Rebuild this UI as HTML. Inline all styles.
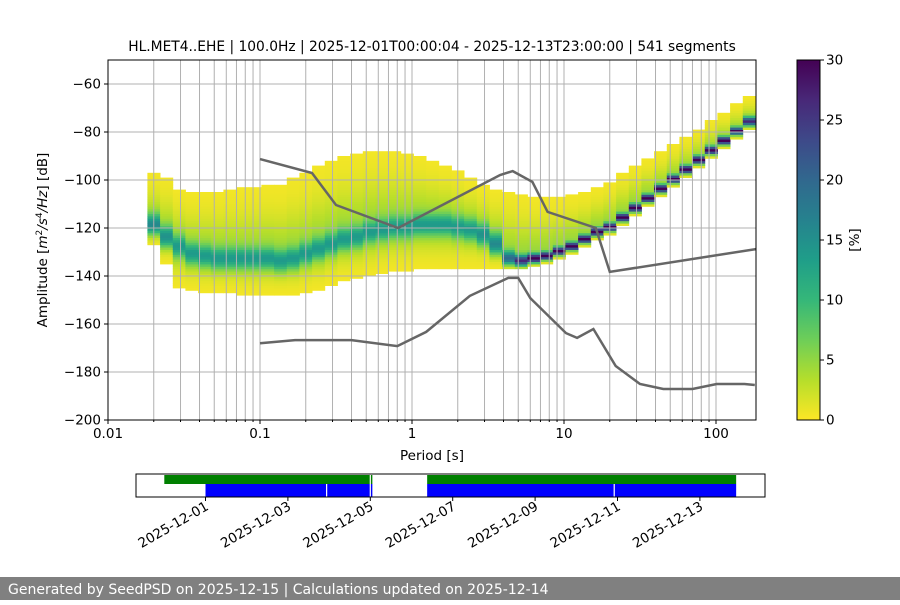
<!DOCTYPE html>
<html><head><meta charset="utf-8"><style>
body{margin:0;background:#fff;}
svg text{font-family:"DejaVu Sans","Liberation Sans",sans-serif;}
</style></head><body>
<svg id="c" width="900" height="600" xmlns="http://www.w3.org/2000/svg"></svg>
<script>
// ---- heatmap data: one column per 1/12 decade, starting at 0.02 s
const colModes=[-119,-124,-128,-131,-132,-133,-133,-133,-133,-133,-134,-133,-131,-129,-127,-125,-124,-122,-121,-120,-120,-119,-119,-119,-120,-121,-123,-127,-133,-134,-133,-132,-130,-128,-125,-122,-120,-116,-112,-108,-104,-100,-96,-92,-88,-84,-80,-76];
const colLows=[-127,-135,-145,-146,-147,-147,-147,-148,-148,-148,-148,-148,-147,-146,-144,-142,-141,-140,-139,-138,-138,-137,-137,-137,-137,-137,-137,-137,-137,-137,-136,-135,-133,-131,-128,-125,-123,-119,-115,-111,-107,-103,-99,-95,-91,-87,-83,-79];
const colHighs=[-98,-100,-105,-106,-106,-106,-105,-104,-104,-103,-103,-100,-98,-95,-93,-91,-90,-89,-89,-89,-90,-91,-93,-95,-97,-100,-103,-105,-106,-107,-108,-108,-108,-107,-106,-104,-102,-98,-95,-92,-89,-86,-83,-80,-76,-73,-69,-66];
const colPeaks=[11,10,9,9,9,9,9,9,9,9,9,9,9,9,9,9,9,9,9,9,9,9,9,9,9,9,10,11,15,22,28,30,30,30,30,30,30,30,30,30,30,30,30,30,30,30,26,22];
const colSigmas=[3,3,3,3,3,3,3,3,3,3,3,3,3,3,3,3,3,3,3,3,3,3,3,3,3,3,3,3,2,1.5,1.2,1,1,1,1,1,1,1,1,1,1,1,1,1,1,1,1,1.2];
// ---- noise models
const nhnmPeriods=[0.1,0.22,0.316,0.81,3.8,4.6,6.2,7.8,16.2,20,183];
const nhnmDb=[-91.3,-97.1,-110.4,-120,-97.9,-96.3,-100.8,-113.3,-120,-138.3,-128.8];
const nlnmPeriods=[0.1,0.17,0.4,0.8,1.24,2.4,4.3,5.0,6.0,10.3,12.2,15.6,21.9,31.6,45,70,101,154,180];
const nlnmDb=[-168,-166.7,-166.7,-169.2,-163.3,-148.3,-140.8,-140.8,-149.2,-163.8,-165.8,-162.1,-177.5,-185,-187.1,-187.1,-185,-185,-185.4];
// ---- timeline (days from 2025-12-01)
const greenStart=[-1.0,5.38];
const greenEnd=[4.05,12.88];
const blueStart=[0,5.38];
const blueEnd=[4.05,12.88];
const gapDays=[2.94,4.0,9.92];
const dateTicks=["2025-12-01","2025-12-03","2025-12-05","2025-12-07","2025-12-09","2025-12-11","2025-12-13"];
const dateTickDays=[0,2,4,6,8,10,12];
const yTicks=[-200,-180,-160,-140,-120,-100,-80,-60];
const xTicks=[0.01,0.1,1,10,100];
const xTickLabels=["0.01","0.1","1","10","100"];
const cbTicks=[0,5,10,15,20,25,30];

const NS="http://www.w3.org/2000/svg";
const svg=document.getElementById('c');
function mk(tag,attrs,parent){const e=document.createElementNS(NS,tag);for(const k in attrs)e.setAttribute(k,attrs[k]);(parent||svg).appendChild(e);return e;}
const L=108,R=756,T=60,B=420;
const xs=p=>L+152*(Math.log10(p)+2);
const ys=d=>B-(d+200)*2.4;
const vir=["#fde725","#b5de2b","#6ece58","#35b779","#1f9e89","#26828e","#31688e","#3e4989","#482878","#440154"];
function hex(h){return [1,3,5].map(i=>parseInt(h.substr(i,2),16));}
function cmap(v){let t=Math.max(0,Math.min(1,v/30))*(vir.length-1);const i=Math.min(vir.length-2,Math.floor(t));const f=t-i;const a=hex(vir[i]),b=hex(vir[i+1]);return "rgb("+a.map((x,j)=>Math.round(x+(b[j]-x)*f)).join(",")+")";}

const title=mk('text',{x:432,y:51,'text-anchor':'middle','font-size':13.8});
title.textContent="HL.MET4..EHE | 100.0Hz | 2025-12-01T00:00:04 - 2025-12-13T23:00:00 | 541 segments";



const cp=mk('clipPath',{id:'cp'});
mk('rect',{x:L,y:T,width:R-L,height:B-T},cp);

const hm=mk('g',{'clip-path':'url(#cp)'});


for(let k=0;k<colModes.length;k++){
  const lg=Math.log10(0.02)+k/12;
  const x0=xs(Math.pow(10,lg-1/24)),x1=xs(Math.pow(10,lg+1/24));
  const upS=Math.max(2,(colHighs[k]-colModes[k])/2.5), dnS=Math.max(1.5,(colModes[k]-colLows[k])/2.5);
  for(let d=colLows[k];d<=colHighs[k];d++){
    const z=(d-colModes[k])/colSigmas[k];
    const w=(d-colModes[k])/(d>=colModes[k]?upS:dnS);
    const v=colPeaks[k]*Math.exp(-0.5*z*z)+0.3+4.5*Math.exp(-0.5*w*w);
    const r=mk('rect',{x:x0.toFixed(1),y:ys(d+1).toFixed(1),width:(x1-x0+0.4).toFixed(1),height:2.8,fill:cmap(v)},hm);
    
    
  }
}
const grid=mk('g',{stroke:'#b0b0b0','stroke-width':1});


for(let e=-2;e<=2;e++)for(let m=1;m<=9;m++){const p=m*Math.pow(10,e);const x=xs(p);if(x>L+0.5&&x<R-0.5)mk('line',{x1:x,x2:x,y1:T,y2:B},grid);}
yTicks.forEach(t=>{const y=ys(t);if(y>T&&y<B)mk('line',{x1:L,x2:R,y1:y,y2:y},grid);});
function line(ps,ds,name){const pl=mk('polyline',{points:ps.map((p,i)=>xs(p).toFixed(1)+','+ys(ds[i]).toFixed(1)).join(' '),fill:'none',stroke:'#666','stroke-width':2.5,'clip-path':'url(#cp)'});

}
line(nhnmPeriods,nhnmDb,'nhnm-line');
line(nlnmPeriods,nlnmDb,'nlnm-line');
mk('rect',{x:L,y:T,width:R-L,height:B-T,fill:'none',stroke:'#000','stroke-width':1});
yTicks.forEach(t=>{const y=ys(t);mk('line',{x1:L-4,x2:L,y1:y,y2:y,stroke:'#000'});
const tx=mk('text',{x:L-7,y:y+4.5,'text-anchor':'end','font-size':13.5});tx.textContent=t<0?'\u2212'+(-t):t;

});
xTicks.forEach((t,i)=>{const x=xs(t);mk('line',{x1:x,x2:x,y1:B,y2:B+4,stroke:'#000'});
const tx=mk('text',{x:x,y:B+18,'text-anchor':'middle','font-size':13.5});tx.textContent=xTickLabels[i];

});
for(let e=-2;e<=2;e++)for(let m=2;m<=9;m++){const x=xs(m*Math.pow(10,e));if(x<R)mk('line',{x1:x,x2:x,y1:B,y2:B+2,stroke:'#000'});}
const xl=mk('text',{x:432,y:460,'text-anchor':'middle','font-size':13.5});xl.textContent='Period [s]';


const yl=mk('text',{x:0,y:0,'text-anchor':'middle','font-size':13.5,transform:'translate(47,240) rotate(-90)'});
yl.innerHTML='Amplitude [<tspan font-style="italic">m</tspan><tspan dy="-5" font-size="9">2</tspan><tspan dy="5" font-style="italic">/s</tspan><tspan dy="-5" font-size="9">4</tspan><tspan dy="5" font-style="italic">/Hz</tspan>] [dB]';


const defs=mk('defs',{});const lgd=mk('linearGradient',{id:'vg',x1:0,y1:1,x2:0,y2:0},defs);
vir.forEach((c,i)=>mk('stop',{offset:i/(vir.length-1),'stop-color':c},lgd));
const cb=mk('rect',{x:797,y:T,width:23,height:B-T,fill:'url(#vg)',stroke:'#000'});


cbTicks.forEach(t=>{const y=B-(B-T)*t/30;mk('line',{x1:820,x2:824,y1:y,y2:y,stroke:'#000'});
const tx=mk('text',{x:826,y:y+4.5,'font-size':13.5});tx.textContent=t;

});
const cl=mk('text',{x:0,y:0,'text-anchor':'middle','font-size':13.5,transform:'translate(859,240) rotate(-90)'});cl.textContent='[%]';


const TL=136,TR=765,TT=474,TB=497;const xd=d=>205.5+41.2*d;
const tl=mk('g',{});


greenStart.forEach((s,i)=>{const r=mk('rect',{x:xd(s),y:TT+1,width:xd(greenEnd[i])-xd(s),height:9,fill:'#008000'},tl);

});
blueStart.forEach((s,i)=>{const r=mk('rect',{x:xd(s),y:TT+10,width:xd(blueEnd[i])-xd(s),height:TB-TT-10,fill:'#0000ff'},tl);

});
gapDays.forEach(g=>mk('line',{x1:xd(g),x2:xd(g),y1:TT+(g>3.5&&g<4.5?1:10),y2:TB,stroke:'#fff','stroke-width':1.2},tl));
mk('rect',{x:TL,y:TT,width:TR-TL,height:TB-TT,fill:'none',stroke:'#000'});
dateTicks.forEach((t,i)=>{const x=xd(dateTickDays[i]);mk('line',{x1:x,x2:x,y1:TB,y2:TB+4,stroke:'#000'});
const tx=mk('text',{x:0,y:0,'text-anchor':'end','font-size':13.5,transform:'translate('+(x+4)+','+(TB+12)+') rotate(-30)'});tx.textContent=t;

});
const fb=mk('rect',{x:0,y:577,width:900,height:23,fill:'#808080'});


const ft=mk('text',{x:8,y:594,'font-size':14,fill:'#fff'});ft.textContent='Generated by SeedPSD on 2025-12-15 | Calculations updated on 2025-12-14';


</script>
</body></html>
